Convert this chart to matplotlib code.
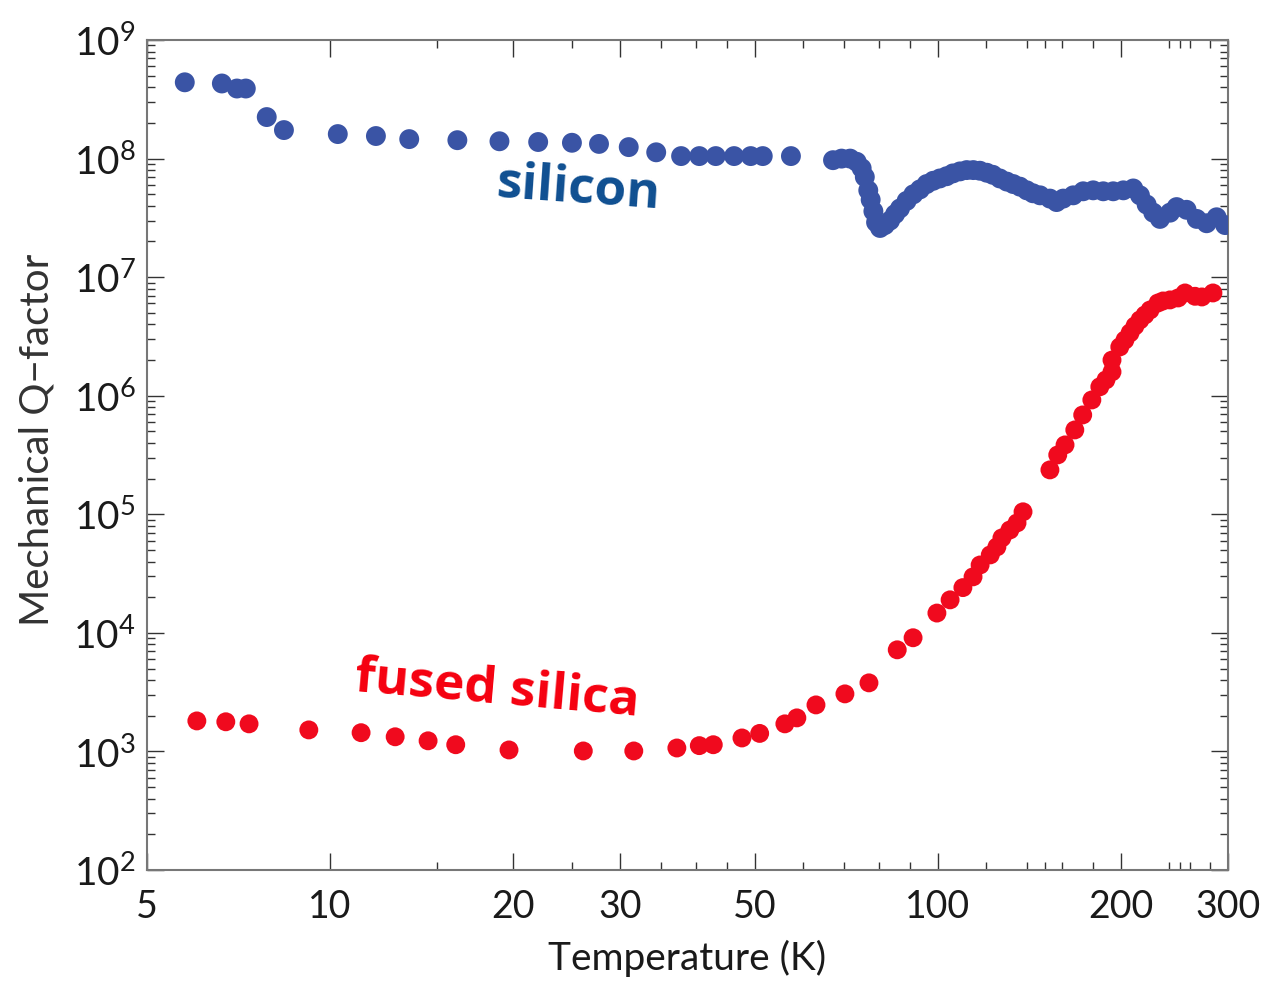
import numpy as np
import matplotlib
matplotlib.use("Agg")
import matplotlib.pyplot as plt
from matplotlib.ticker import FixedLocator, FuncFormatter, NullFormatter

''' Data read off the picture '''
# silicon: temperature (K) and mechanical Q
si_T = [5.77, 6.64, 7.03, 7.27, 7.87, 8.4, 10.3, 11.9, 13.5, 16.2, 19.0, 22.0,
        25.0, 27.7, 31.0, 34.4, 37.8, 40.5, 43.1, 46.2, 49.2, 51.5, 57.3,
        67.2, 69.4, 71.7, 73.5, 74.9, 75.8, 76.8, 77.5, 78.3, 79.1, 80.3,
        81.8, 83.4, 85.0, 86.6, 88.8, 91.1, 93.4, 95.8, 98.2, 100.7, 103.3,
        105.8, 108.7, 111.5, 114.3, 117.2, 120.3, 123.1, 126.4, 129.8, 133.0,
        136.4, 140.0, 143.3, 147.2, 152.8, 156.7, 160.7, 166.9, 173.3, 180.0,
        187.0, 194.2, 201.8, 209.5, 214.9, 220.4, 226.0, 231.8, 240.8, 246.9,
        256.4, 266.4, 276.6, 287.3, 296.7]
si_Q = [4.4e8, 4.3e8, 3.9e8, 3.9e8, 2.24e8, 1.74e8, 1.61e8, 1.55e8, 1.46e8,
        1.43e8, 1.40e8, 1.38e8, 1.36e8, 1.33e8, 1.25e8, 1.13e8, 1.05e8,
        1.05e8, 1.05e8, 1.05e8, 1.05e8, 1.05e8, 1.05e8,
        9.7e7, 1.0e8, 1.0e8, 9.4e7, 8.3e7, 7.0e7, 5.4e7, 4.5e7, 3.6e7, 2.9e7,
        2.6e7, 2.75e7, 3.0e7, 3.4e7, 3.8e7, 4.4e7, 5.0e7, 5.5e7, 6.1e7,
        6.5e7, 6.8e7, 7.1e7, 7.5e7, 7.8e7, 8.0e7, 8.0e7, 7.9e7, 7.6e7, 7.3e7,
        6.8e7, 6.4e7, 6.1e7, 5.8e7, 5.4e7, 5.1e7, 4.9e7, 4.6e7, 4.3e7, 4.6e7,
        4.9e7, 5.3e7, 5.4e7, 5.3e7, 5.3e7, 5.4e7, 5.6e7, 4.9e7, 4.1e7, 3.5e7,
        3.1e7, 3.5e7, 3.9e7, 3.7e7, 3.1e7, 2.85e7, 3.2e7, 2.75e7]

# fused silica
fs_T = [6.04, 6.74, 7.36, 9.23, 11.25, 12.8, 14.5, 16.1, 19.7, 26.1, 31.6,
        37.2, 40.5, 42.7, 47.6, 50.9, 56.0, 58.6, 63.0, 70.3, 77.0, 85.7, 91.0,
        99.6, 104.7, 109.9, 114.2, 117.3, 121.9, 125.0, 127.4, 131.3, 134.9,
        138.0, 152.8, 157.4, 161.8, 167.9, 173.0, 179.1, 184.6, 188.9, 193.3,
        193.3, 199.1, 203.0, 207.0, 210.9, 214.9, 219.0, 223.3, 230.1, 234.5,
        240.8, 248.3, 254.9, 264.7, 271.7, 283.3]
fs_Q = [1.81e3, 1.78e3, 1.71e3, 1.52e3, 1.44e3, 1.33e3, 1.23e3, 1.14e3,
        1.03e3, 1.01e3, 1.01e3, 1.07e3, 1.12e3, 1.14e3, 1.30e3, 1.42e3,
        1.71e3, 1.92e3, 2.47e3, 3.06e3, 3.79e3, 7.2e3, 9.1e3,
        1.47e4, 1.90e4, 2.41e4, 2.97e4, 3.74e4, 4.55e4, 5.31e4, 6.33e4,
        7.38e4, 8.46e4, 1.05e5, 2.37e5, 3.17e5, 3.85e5, 5.15e5, 6.89e5,
        9.22e5, 1.19e6, 1.36e6, 1.59e6, 2.0e6, 2.58e6, 2.95e6, 3.39e6,
        3.88e6, 4.36e6, 4.80e6, 5.29e6, 6.06e6, 6.30e6, 6.43e6, 6.68e6,
        7.36e6, 6.9e6, 6.81e6, 7.36e6]

x_major = [5, 10, 20, 30, 50, 100, 200, 300]
x_minor = [15, 25, 35, 40, 45, 60, 70, 80, 90, 120, 140, 150, 160, 180,
           240, 250, 260, 280]

''' Style '''
axis_font = ["Lato", "DejaVu Sans"]
plt.rcParams["mathtext.fontset"] = "custom"
plt.rcParams["mathtext.rm"] = "Lato"
plt.rcParams["mathtext.it"] = "Lato:italic"
plt.rcParams["mathtext.bf"] = "Lato:bold"

fig = plt.figure(figsize=(12.68, 9.81), dpi=100)
ax = fig.add_axes([0.1159, 0.1131, 0.8526, 0.8461])

ax.scatter(si_T, si_Q, s=205, color="#3a54a5", edgecolors="none", zorder=3)
ax.scatter(fs_T, fs_Q, s=185, color="#f00a1e", edgecolors="none", zorder=3)

ax.set_xscale("log")
ax.set_yscale("log")
ax.set_xlim(5, 300)
ax.set_ylim(1e2, 1e9)

# x ticks
ax.xaxis.set_major_locator(FixedLocator(x_major))
ax.xaxis.set_minor_locator(FixedLocator(x_minor))
ax.xaxis.set_major_formatter(FuncFormatter(lambda v, p: "%d" % v))
ax.xaxis.set_minor_formatter(NullFormatter())

# y ticks
ax.yaxis.set_major_locator(FixedLocator([10.0 ** k for k in range(2, 10)]))
ax.yaxis.set_minor_locator(FixedLocator([m * 10.0 ** k for k in range(2, 9) for m in range(2, 10)]))
ax.yaxis.set_major_formatter(FuncFormatter(
    lambda v, p: r"$\mathregular{10^{%d}}$" % round(np.log10(v))))
ax.yaxis.set_minor_formatter(NullFormatter())

ax.tick_params(which="both", direction="in", top=True, right=True,
               color="#333333", width=1.0)
ax.tick_params(which="major", length=12)
ax.tick_params(which="minor", length=6)
ax.tick_params(axis="x", which="major", pad=14, labelsize=27, labelcolor="#1a1a1a")
ax.tick_params(axis="y", which="major", pad=8, labelsize=28, labelcolor="#1a1a1a")
for lab in ax.get_xticklabels() + ax.get_yticklabels():
    lab.set_family(axis_font)

for sp in ax.spines.values():
    sp.set_color("#777777")
    sp.set_linewidth(1.5)

ax.set_xlabel("Temperature (K)", fontsize=28, family=axis_font,
              color="#1a1a1a", labelpad=10)
ax.set_ylabel("Mechanical Q\u2212factor", fontsize=29, family=axis_font,
              color="#333333")
ax.yaxis.set_label_coords(-0.085, 0.518)

# annotations
ax.text(25.6, 5.5e7, "silicon", fontsize=37, fontweight="bold",
        family=["Open Sans", "DejaVu Sans"], color="#0f4f91",
        rotation=-4, ha="center", va="center")
ax.text(18.8, 3.3e3, "fused silica", fontsize=37, fontweight="bold",
        family=["Open Sans", "DejaVu Sans"], color="#f5000f",
        rotation=-5, ha="center", va="center")

fig.savefig("out.png", dpi=100)
